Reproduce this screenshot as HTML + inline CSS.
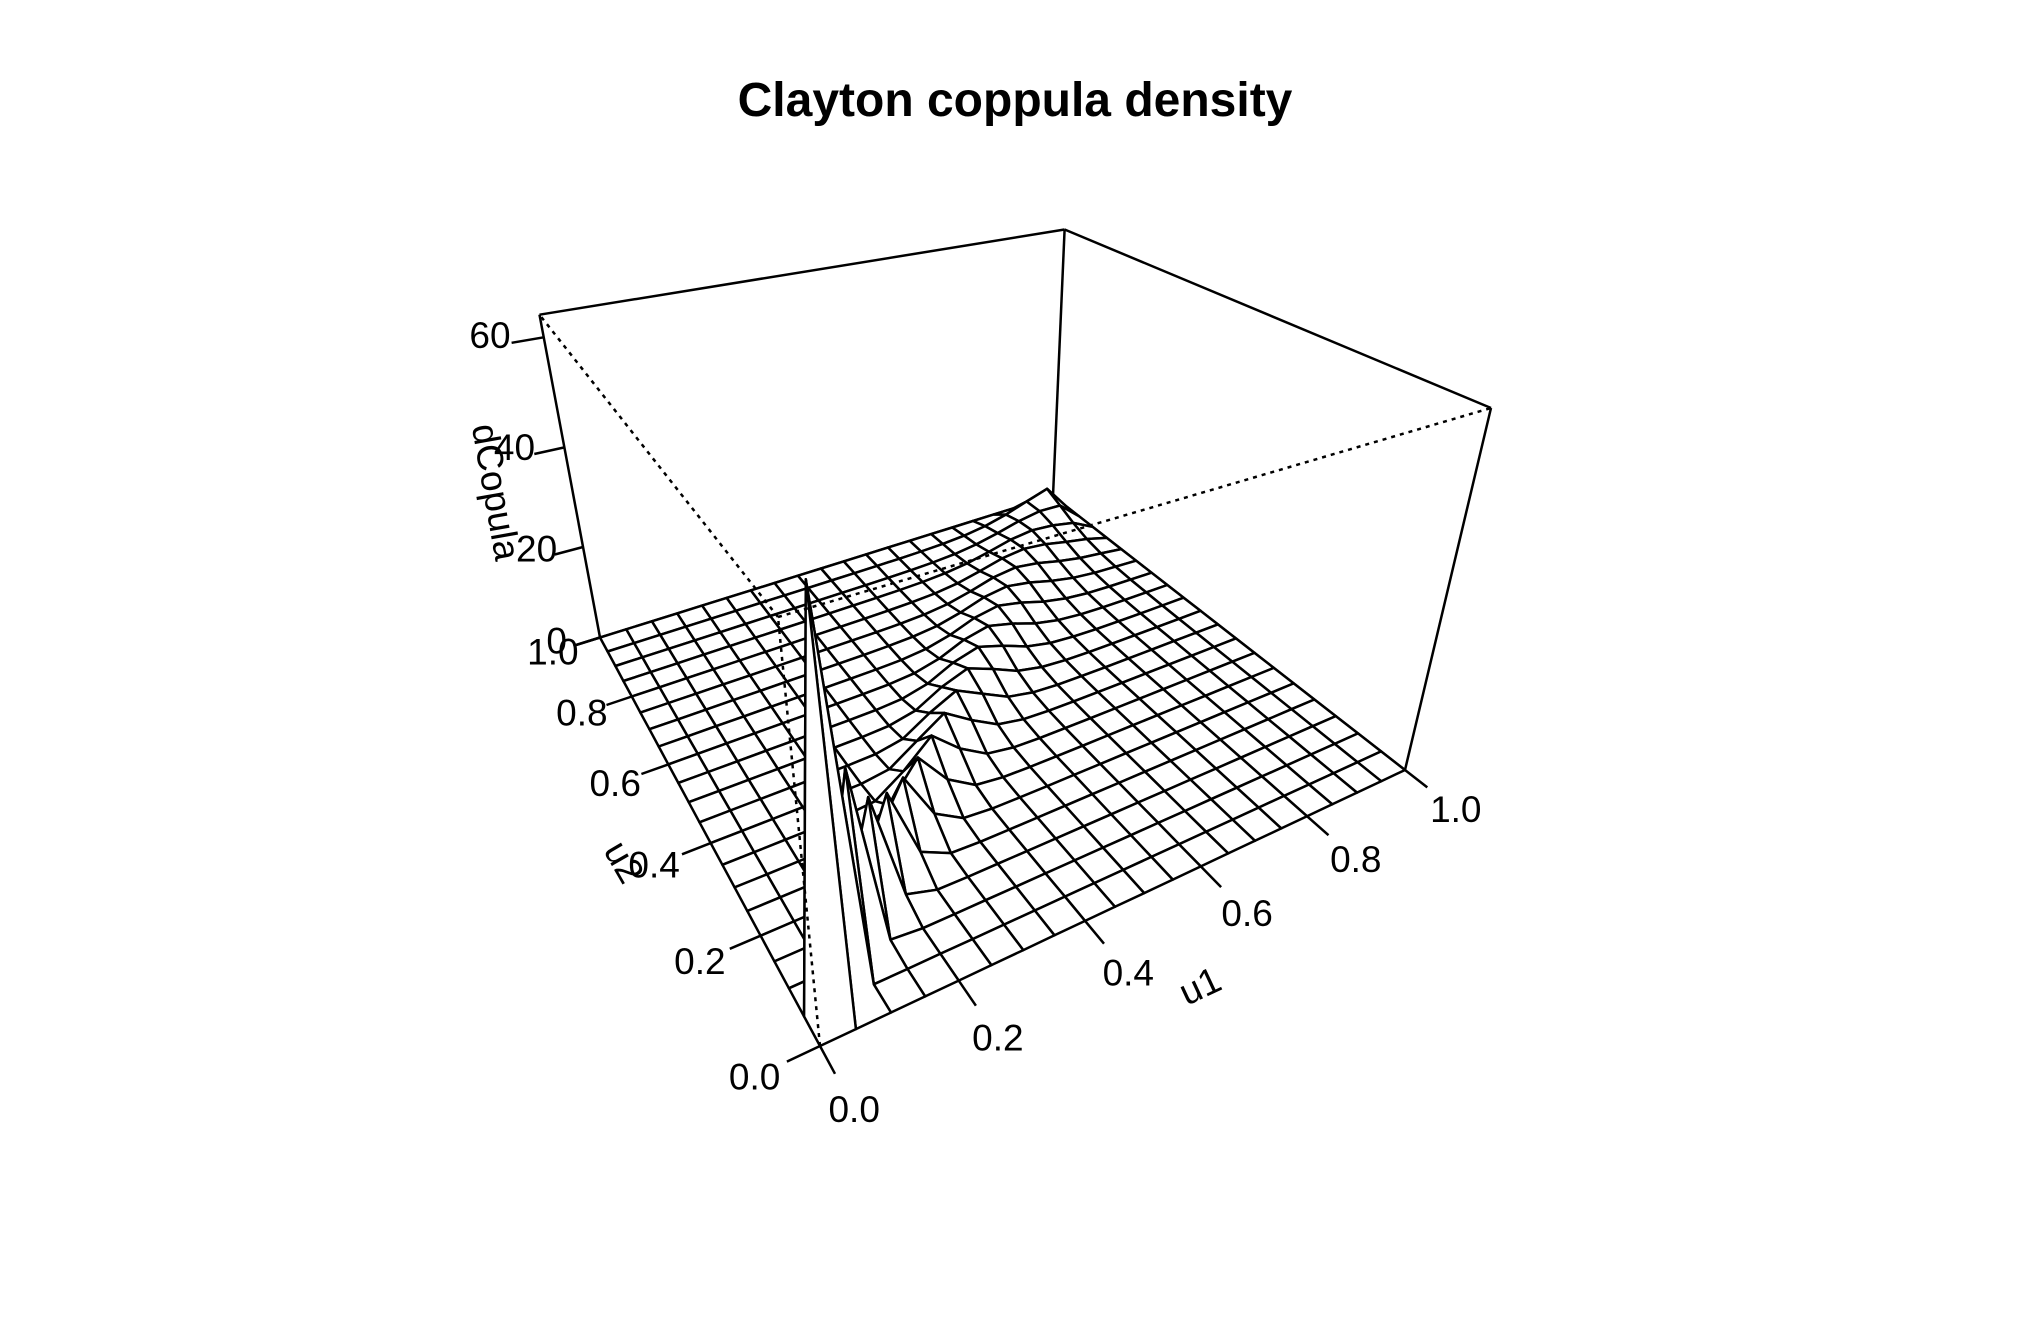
<!DOCTYPE html>
<html><head><meta charset="utf-8"><style>
html,body{margin:0;padding:0;background:#fff;}
svg{display:block;font-family:"Liberation Sans",Arial,sans-serif;}
</style></head><body>
<svg id="chart" width="2030" height="1325" viewBox="0 0 2030 1325" xmlns="http://www.w3.org/2000/svg">
<rect width="2030" height="1325" fill="#fff"/>
<text x="1015" y="116" text-anchor="middle" font-size="48" font-weight="bold">Clayton coppula density</text>
<g id="box-back"></g>
<g id="surface"></g>
<g id="box-front"></g>
<g id="axes"></g>
</svg>
<script>
// ---- data ----
const u1Grid = [0,0.05,0.1,0.15,0.2,0.25,0.3,0.35,0.4,0.45,0.5,0.55,0.6,0.65,0.7,0.75,0.8,0.85,0.9,0.95,1];
const u2Grid = [0,0.05,0.1,0.15,0.2,0.25,0.3,0.35,0.4,0.45,0.5,0.55,0.6,0.65,0.7,0.75,0.8,0.85,0.9,0.95,1];
const copulaTheta = 12.5;
const u1Ticks = [0,0.2,0.4,0.6,0.8,1.0];
const u1TickLabels = ["0.0","0.2","0.4","0.6","0.8","1.0"];
const u2Ticks = [0,0.2,0.4,0.6,0.8,1.0];
const u2TickLabels = ["0.0","0.2","0.4","0.6","0.8","1.0"];
const zTicks = [0,20,40,60];
const zTickLabels = ["0","20","40","60"];

function claytonDensity(u,v,th){
  if(u<=0||v<=0||u>=1||v>=1) return 0;
  return (1+th)*Math.pow(u*v,-th-1)*Math.pow(Math.pow(u,-th)+Math.pow(v,-th)-1,-2-1/th);
}
const zMatrix = u1Grid.map(u=>u2Grid.map(v=>claytonDensity(u,v,copulaTheta)));
let ZMAX = 0; zMatrix.forEach(r=>r.forEach(z=>{if(z>ZMAX)ZMAX=z;}));

// ---- projection ----
function solve(A,b){
  const n=b.length;A=A.map((r,i)=>r.concat([b[i]]));
  for(let c=0;c<n;c++){let p=c;for(let r=c+1;r<n;r++)if(Math.abs(A[r][c])>Math.abs(A[p][c]))p=r;
    [A[c],A[p]]=[A[p],A[c]];
    for(let r=0;r<n;r++){if(r===c)continue;const f=A[r][c]/A[c][c];for(let k=c;k<=n;k++)A[r][k]-=f*A[c][k];}}
  return A.map((r,i)=>r[n]/r[i]);
}
function homog(src,dst){
  const A=[],b=[];
  for(let i=0;i<4;i++){const [x,y]=src[i],[X,Y]=dst[i];
    A.push([x,y,1,0,0,0,-x*X,-y*X]);b.push(X);
    A.push([0,0,0,x,y,1,-x*Y,-y*Y]);b.push(Y);}
  const h=solve(A,b);
  return (x,y)=>{const w=h[6]*x+h[7]*y+1;return [(h[0]*x+h[1]*y+h[2])/w,(h[3]*x+h[4]*y+h[5])/w];};
}
const unitSq=[[0,0],[1,0],[0,1],[1,1]];
const Hb=homog(unitSq,[[820,1046],[1405,770],[600,637.5],[1053,496]]);
const Ht=homog(unitSq,[[778,617],[1491,408],[539.5,314.7],[1064.6,229.5]]);
const R=0.854;
function P(a,b,z){
  const p=Hb(a,b),q=Ht(a,b);const s=z/ZMAX;const f=R*s/((1-s)+R*s);
  return [p[0]+(q[0]-p[0])*f,p[1]+(q[1]-p[1])*f];
}
const NS="http://www.w3.org/2000/svg";
function line(g,a,b,name,dash){
  const l=document.createElementNS(NS,'line');
  l.setAttribute('x1',a[0].toFixed(1));l.setAttribute('y1',a[1].toFixed(1));
  l.setAttribute('x2',b[0].toFixed(1));l.setAttribute('y2',b[1].toFixed(1));
  l.setAttribute('stroke','#000');l.setAttribute('stroke-width','2.5');
  if(dash)l.setAttribute('stroke-dasharray','4 5');
  
  
  g.appendChild(l);
}
function text(g,pt,str,size,rot,name,dx,dy){
  const x=pt[0]+(dx||0),y=pt[1]+(dy||0);
  const t=document.createElementNS(NS,'text');
  t.setAttribute('x',x.toFixed(1));t.setAttribute('y',y.toFixed(1));
  t.setAttribute('font-size',size);t.setAttribute('text-anchor','middle');
  t.setAttribute('dominant-baseline','central');
  if(rot)t.setAttribute('transform','rotate('+rot+' '+x.toFixed(1)+' '+y.toFixed(1)+')');
  t.textContent=str;
  
  
  g.appendChild(t);
}
// back box
const gb=document.getElementById('box-back');
line(gb,P(0,1,0),P(0,1,ZMAX),'box-edge');
line(gb,P(1,1,0),P(1,1,ZMAX),'box-edge');
line(gb,P(1,0,0),P(1,0,ZMAX),'box-edge');
line(gb,P(0,1,ZMAX),P(1,1,ZMAX),'box-edge');
line(gb,P(1,1,ZMAX),P(1,0,ZMAX),'box-edge');
line(gb,P(0,1,0),P(1,1,0),'box-edge');
line(gb,P(1,1,0),P(1,0,0),'box-edge');
// surface facets, back to front
const gs=document.getElementById('surface');
const facets=[];
for(let i=0;i<u1Grid.length-1;i++)for(let j=0;j<u2Grid.length-1;j++)facets.push([i,j]);
facets.sort((a,b)=>(b[0]+b[1])-(a[0]+a[1]));
facets.forEach(([i,j])=>{
  const pts=[[i,j],[i+1,j],[i+1,j+1],[i,j+1]].map(([a,b])=>P(u1Grid[a],u2Grid[b],zMatrix[a][b]));
  const pg=document.createElementNS(NS,'polygon');
  pg.setAttribute('points',pts.map(p=>p[0].toFixed(1)+','+p[1].toFixed(1)).join(' '));
  pg.setAttribute('fill','#fff');pg.setAttribute('stroke','#000');pg.setAttribute('stroke-width','2.5');
  pg.setAttribute('stroke-linejoin','round');
  
  
  gs.appendChild(pg);
});
// front dotted
const gf=document.getElementById('box-front');
line(gf,P(0,0,0),P(0,0,ZMAX),'box-edge-hidden',true);
line(gf,P(0,0,ZMAX),P(0,1,ZMAX),'box-edge-hidden',true);
line(gf,P(0,0,ZMAX),P(1,0,ZMAX),'box-edge-hidden',true);
// axes
const ga=document.getElementById('axes');
u1Ticks.forEach((u,k)=>{
  line(ga,P(u,0,0),P(u,-0.045,0),'u1-tick');
  text(ga,P(u,-0.1,0),u1TickLabels[k],37,0,'u1-tick-label');
});
u2Ticks.forEach((u,k)=>{
  line(ga,P(0,u,0),P(-0.045,u,0),'u2-tick');
  text(ga,P(-0.088,u,0),u2TickLabels[k],37,0,'u2-tick-label');
});
zTicks.forEach((z,k)=>{
  line(ga,P(0,1,z),P(-0.05,1,z),'z-tick');
  text(ga,P(-0.092,1,z),zTickLabels[k],37,0,'z-tick-label',6,-12);
});
text(ga,[1200,986],'u1',37,-25,'u1-axis-title');
text(ga,[624,862],'u2',37,60,'u2-axis-title');
text(ga,[496,492],'dCopula',37,80,'z-axis-title');
</script>
</body></html>
